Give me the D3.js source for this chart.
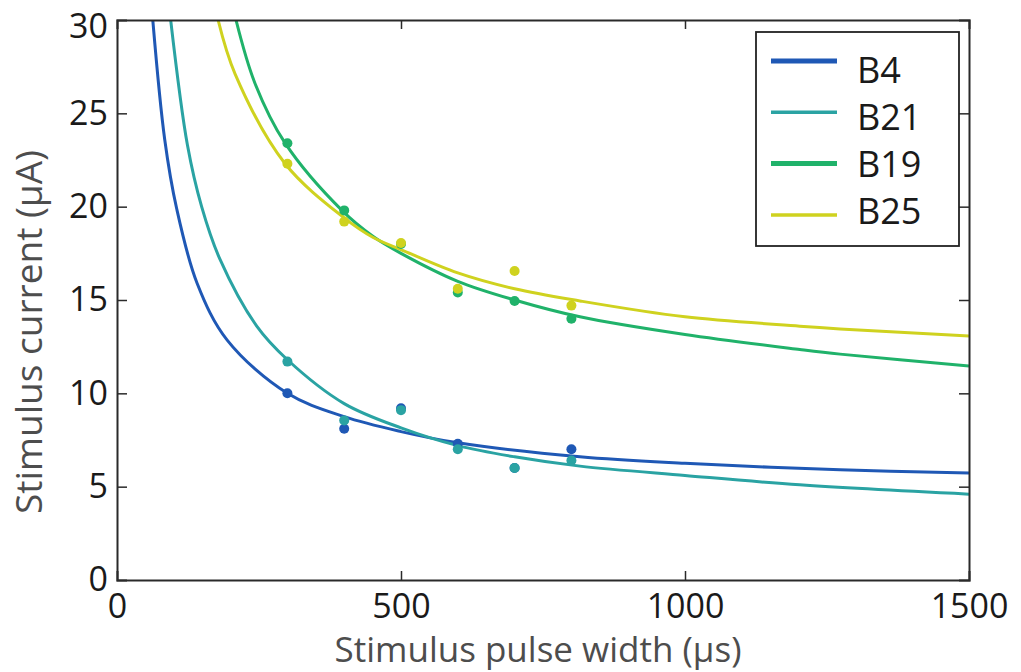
<!DOCTYPE html>
<html>
<head>
<meta charset="utf-8">
<script src="https://cdn.jsdelivr.net/npm/d3@7"></script>
<style>
  html, body { margin: 0; padding: 0; background: #ffffff; }
  svg { display: block; }
  text { font-family: "Open Sans", "DejaVu Sans", sans-serif; }
</style>
</head>
<body>
<svg id="chart" width="1021" height="672"></svg>
<script>
// ---------------- data ----------------
const seriesNames = ["B4", "B21", "B19", "B25"];
const seriesColors = ["#1f58b5", "#2aa3a3", "#20b26a", "#cfd21f"];
const legendWidths = [5, 3.5, 5, 3.5];

const xTicks = [0, 500, 1000, 1500];
const yTicks = [0, 5, 10, 15, 20, 25, 30];

// measured points (pulse width in µs)
const pulseWidths = [300, 400, 500, 600, 700, 800];
const ptsB4  = [10.0, 8.1, 9.2, 7.3, 6.0, 7.0];
const ptsB21 = [11.7, 8.55, 9.1, 7.0, 6.0, 6.4];
const ptsB19 = [23.4, 19.8, 18.0, 15.4, 14.95, 14.0];
const ptsB25 = [22.3, 19.2, 18.05, 15.6, 16.55, 14.7];

// fitted curves
const fitXB4  = [63, 84, 105, 141, 194, 300, 400, 500, 600, 815, 1000, 1273, 1500];
const fitYB4  = [30, 23.6, 19.9, 15.9, 12.85, 10.0, 8.75, 7.95, 7.35, 6.6, 6.25, 5.9, 5.73];
const fitXB21 = [94.5, 124, 149, 181, 246, 300, 400, 500, 600, 700, 815, 1000, 1202, 1500];
const fitYB21 = [30, 23.3, 20.0, 17.2, 13.6, 11.8, 9.45, 8.15, 7.2, 6.6, 6.1, 5.6, 5.1, 4.6];
const fitXB19 = [209.5, 243, 296, 396, 451, 500, 600, 700, 815, 1000, 1202, 1273, 1500];
const fitYB19 = [30, 26.6, 23.4, 19.8, 18.4, 17.5, 16.0, 15.0, 14.1, 13.15, 12.35, 12.1, 11.46];
const fitXB25 = [178, 208, 296, 400, 451, 500, 600, 700, 815, 1000, 1202, 1273, 1500];
const fitYB25 = [30, 27.1, 22.3, 19.4, 18.35, 17.7, 16.45, 15.6, 14.95, 14.1, 13.6, 13.45, 13.07];

const pointSets = [ptsB4, ptsB21, ptsB19, ptsB25];
const fitXs = [fitXB4, fitXB21, fitXB19, fitXB25];
const fitYs = [fitYB4, fitYB21, fitYB19, fitYB25];

// ---------------- layout ----------------
const svg = d3.select("#chart");
const L = 117, R = 969, T = 20, B = 580;

const x = d3.scaleLinear().domain([0, 1500]).range([L, R]);
const y = d3.scaleLinear().domain([0, 30]).range([B, T]);

svg.append("defs").append("clipPath").attr("id", "plotclip")
  .append("rect").attr("x", L).attr("y", T).attr("width", R - L).attr("height", B - T);

// curves
const line = d3.line().x(d => x(d[0])).y(d => y(d[1])).curve(d3.curveCatmullRom.alpha(0.5));
const curveG = svg.append("g").attr("clip-path", "url(#plotclip)");
seriesNames.forEach((name, i) => {
  const data = fitXs[i].map((v, j) => [v, fitYs[i][j]]);
  curveG.append("path").datum(data)
    .attr("d", line)
    .attr("fill", "none")
    .attr("stroke", seriesColors[i])
    .attr("stroke-width", 3);
});

// dots
seriesNames.forEach((name, i) => {
  svg.append("g").selectAll("circle")
    .data(pulseWidths.map((v, j) => [v, pointSets[i][j]]))
    .join("circle")
    .attr("cx", d => x(d[0]))
    .attr("cy", d => y(d[1]))
    .attr("r", 5)
    .attr("fill", seriesColors[i]);
});

// axes
const axisColor = "#2a2a2a";
const fs = 34;
const gx = svg.append("g").attr("transform", `translate(0,${B})`)
  .call(d3.axisBottom(x).tickValues(xTicks).tickSize(-9).tickPadding(14).tickFormat(d3.format("d")));
const gy = svg.append("g").attr("transform", `translate(${L},0)`)
  .call(d3.axisLeft(y).tickValues(yTicks).tickSize(-10).tickPadding(9).tickFormat(d3.format("d")));
const gxTop = svg.append("g").attr("transform", `translate(0,${T})`)
  .call(d3.axisTop(x).tickValues(xTicks).tickSize(-9).tickFormat(""));
const gyRight = svg.append("g").attr("transform", `translate(${R},0)`)
  .call(d3.axisRight(y).tickValues(yTicks).tickSize(-10).tickFormat(""));

[gx, gy, gxTop, gyRight].forEach(g => {
  g.select(".domain").attr("stroke", axisColor).attr("stroke-width", 2);
  g.selectAll(".tick line").attr("stroke", axisColor).attr("stroke-width", 1.5);
  g.selectAll(".tick text").attr("fill", "#1a1a1a").style("font-size", fs + "px")
    .style("font-family", '"Open Sans", sans-serif');
});
// the top label sits a little lower so it stays inside the picture
gy.selectAll(".tick").filter(d => d === 30).select("text").attr("dy", "0.5em");
// hide end ticks lying on the frame
gx.selectAll(".tick").filter(d => d === 0 || d === 1500).select("line").remove();
gxTop.selectAll(".tick").filter(d => d === 0 || d === 1500).select("line").remove();
gy.selectAll(".tick").filter(d => d === 0 || d === 30).select("line").remove();
gyRight.selectAll(".tick").filter(d => d === 0 || d === 30).select("line").remove();

// axis titles
svg.append("text")
  .attr("x", (L + R) / 2 - 5).attr("y", 662)
  .attr("text-anchor", "middle")
  .attr("fill", "#4d4d4d")
  .style("font-size", "35px")
  .text("Stimulus pulse width (µs)");

svg.append("text")
  .attr("transform", "translate(42,332) rotate(-90)")
  .attr("text-anchor", "middle")
  .attr("fill", "#4d4d4d")
  .style("font-size", "37px")
  .text("Stimulus current (µA)");

// legend
const lg = svg.append("g");
lg.append("rect")
  .attr("x", 756).attr("y", 32).attr("width", 203).attr("height", 214)
  .attr("fill", "#ffffff").attr("stroke", "#222").attr("stroke-width", 1.8);
seriesNames.forEach((name, i) => {
  const ly = 61 + i * 51.3;
  lg.append("line")
    .attr("x1", 771).attr("x2", 837).attr("y1", ly).attr("y2", ly)
    .attr("stroke", seriesColors[i]).attr("stroke-width", legendWidths[i]);
  lg.append("text")
    .attr("x", 857).attr("y", 70.5 + i * 46.8)
    .attr("dy", "0.36em")
    .attr("fill", "#1a1a1a")
    .style("font-size", "36px")
    .text(name);
});
</script>
</body>
</html>
